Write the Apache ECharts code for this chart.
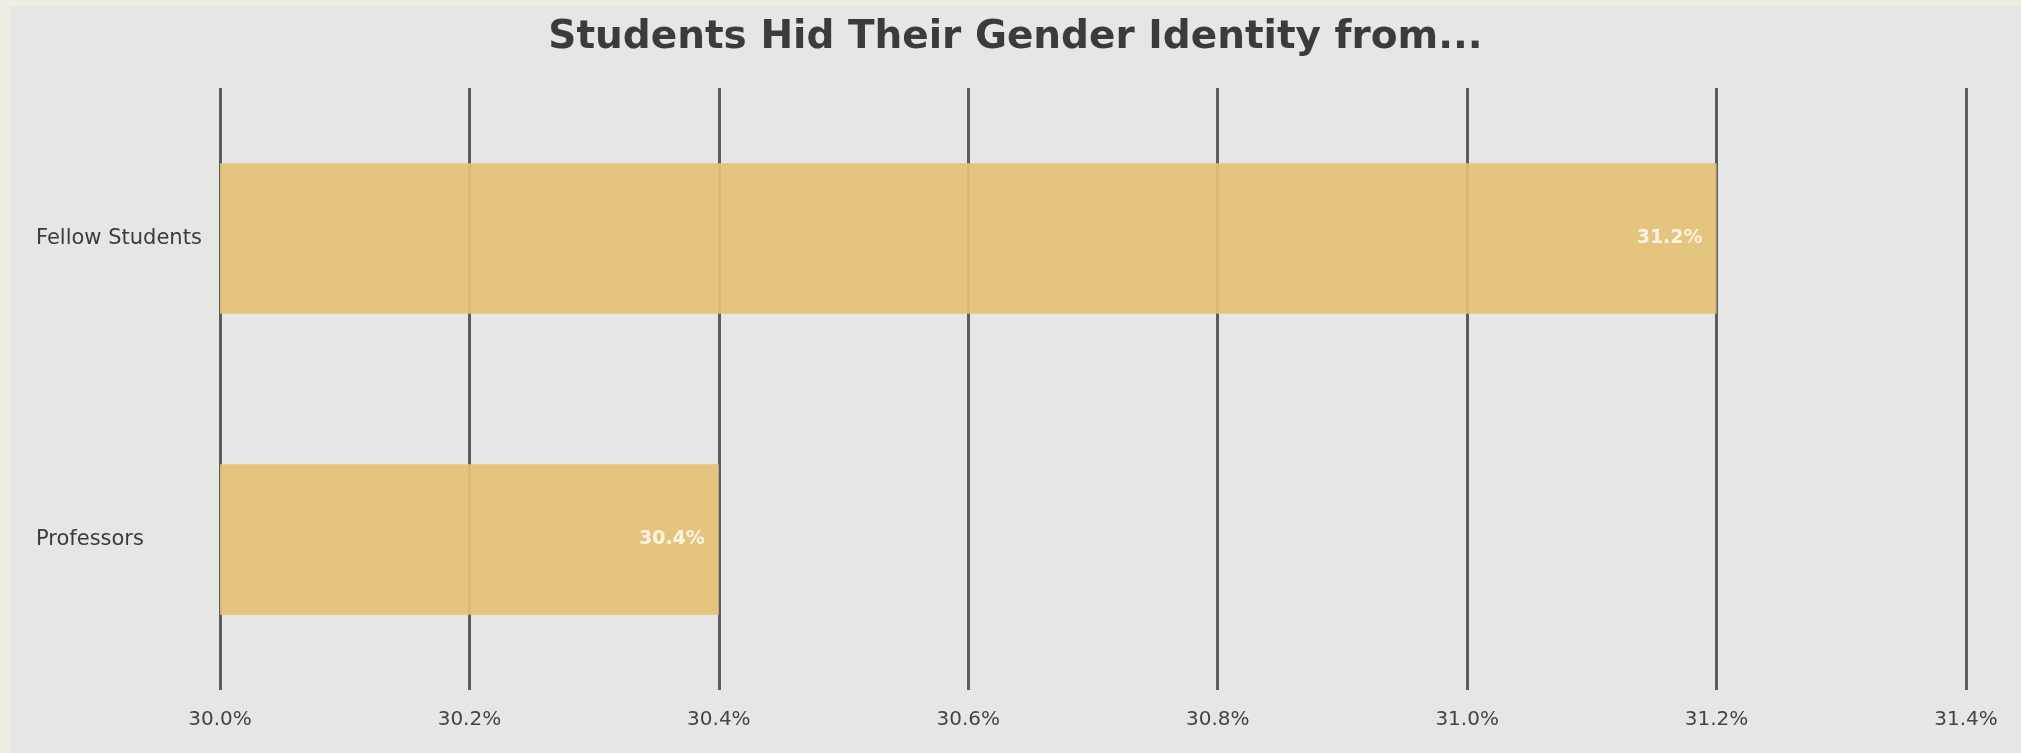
<!DOCTYPE html>
<html>
<head>
<meta charset="utf-8">
<script src="https://cdn.jsdelivr.net/npm/echarts@6/dist/echarts.min.js"></script>
<style>
  html, body { margin: 0; padding: 0; background: #f0ede5; }
  #chart {
    position: absolute;
    left: 10px;
    top: 6px;
    width: 2011px;
    height: 747px;
    background: #e6e6e4;
  }
</style>
</head>
<body>
<div id="chart"></div>
<script>
// data
const categories = ["Fellow Students", "Professors"];
const values = [31.2, 30.4];
const axisMin = 30.0;
const axisMax = 31.4;
const axisStep = 0.2;

let myChart = echarts.init(document.getElementById("chart"));
let option = {
  title: {
    text: "Students Hid Their Gender Identity from...",
    left: "center",
    top: 7,
    textStyle: {
      fontFamily: "DejaVu Sans",
      fontSize: 39,
      fontWeight: "bold",
      color: "#3b3b3b",
    },
  },
  grid: {
    left: 210,
    right: 55,
    top: 82,
    bottom: 63,
  },
  xAxis: {
    type: "value",
    min: axisMin,
    max: axisMax,
    interval: axisStep,
    axisLine: { show: false },
    axisTick: { show: false },
    splitLine: {
      show: true,
      lineStyle: { color: "#5c5c5c", width: 3 },
    },
    axisLabel: {
      margin: 20,
      fontFamily: "DejaVu Sans",
      fontSize: 20,
      color: "#444444",
      formatter: (v) => v.toFixed(1) + "%",
    },
  },
  yAxis: {
    type: "category",
    data: categories,
    inverse: true,
    axisLine: { show: false },
    axisTick: { show: false },
    splitLine: { show: false },
    axisLabel: {
      align: "left",
      margin: 184,
      fontFamily: "DejaVu Sans",
      fontSize: 21,
      color: "#3b3b3b",
    },
  },
  series: [
    {
      type: "bar",
      data: values,
      barCategoryGap: "50%",
      itemStyle: {
        color: "#e3c176",
        opacity: 0.93,
      },
      label: {
        show: true,
        position: "insideRight",
        distance: 14,
        fontFamily: "DejaVu Sans",
        fontWeight: "bold",
        fontSize: 19,
        color: "#fff8e6",
        formatter: (p) => p.value.toFixed(1) + "%",
      },
    },
  ],
};
myChart.setOption(option);
</script>
</body>
</html>
